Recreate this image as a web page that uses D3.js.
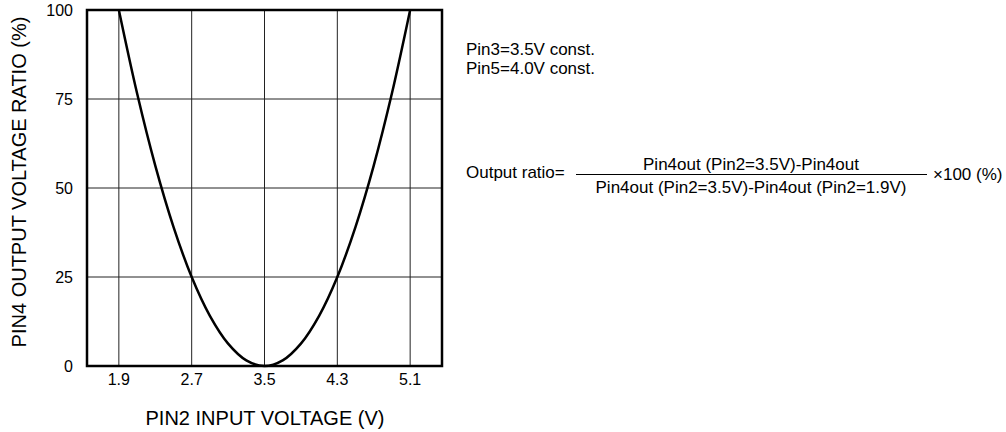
<!DOCTYPE html>
<html lang="en">
<head>
<meta charset="utf-8">
<script src="https://d3js.org/d3.v7.min.js"></script>
<style>
  body { margin: 0; background: #fff; }
  text { font-family: "Liberation Sans", Arial, sans-serif; fill: #000; }
</style>
</head>
<body>
<svg id="chart"></svg>
<script type="text/javascript">
// values
const xTicks = [1.9, 2.7, 3.5, 4.3, 5.1];
const yTicks = [0, 25, 50, 75, 100];
const curveX = [1.9, 2.1, 2.3, 2.5, 2.7, 2.9, 3.1, 3.3, 3.5, 3.7, 3.9, 4.1, 4.3, 4.5, 4.7, 4.9, 5.1];
const curveY = [100, 76.6, 56.3, 39.1, 25, 14.1, 6.3, 1.6, 0, 1.6, 6.3, 14.1, 25, 39.1, 56.3, 76.6, 100];
const noteLines = ["Pin3=3.5V const.", "Pin5=4.0V const."];
const formulaLeft = "Output ratio=";
const formulaNum = "Pin4out (Pin2=3.5V)-Pin4out";
const formulaDen = "Pin4out (Pin2=3.5V)-Pin4out (Pin2=1.9V)";
const formulaRight = "\u00d7100 (%)";

const width = 1006, height = 432;
const plot = { left: 87, right: 442, top: 10, bottom: 366 };

const svg = d3.select("#chart").attr("width", width).attr("height", height);

const x = d3.scaleLinear().domain([1.55, 5.45]).range([plot.left, plot.right]);
const y = d3.scaleLinear().domain([0, 100]).range([plot.bottom, plot.top]);

// grid
svg.append("g").selectAll("line").data(xTicks).enter().append("line")
    .attr("x1", d => x(d)).attr("x2", d => x(d))
    .attr("y1", plot.top).attr("y2", plot.bottom)
    .attr("stroke", "#222").attr("stroke-width", 1);
svg.append("g").selectAll("line").data(yTicks.slice(1, -1)).enter().append("line")
    .attr("x1", plot.left).attr("x2", plot.right)
    .attr("y1", d => y(d)).attr("y2", d => y(d))
    .attr("stroke", "#222").attr("stroke-width", 1);

// curve
const pts = curveX.map((v, i) => [v, curveY[i]]);
svg.append("path")
    .datum(pts)
    .attr("d", d3.line().x(d => x(d[0])).y(d => y(d[1])).curve(d3.curveCatmullRom))
    .attr("fill", "none").attr("stroke", "#000").attr("stroke-width", 2.5);

// frame
svg.append("rect")
    .attr("x", plot.left).attr("y", plot.top)
    .attr("width", plot.right - plot.left).attr("height", plot.bottom - plot.top)
    .attr("fill", "none").attr("stroke", "#000").attr("stroke-width", 2.5);

// tick labels
svg.append("g").selectAll("text").data(yTicks).enter().append("text")
    .attr("x", 73).attr("y", d => y(d) + 6)
    .attr("text-anchor", "end").attr("font-size", 16)
    .text(d => d);
svg.append("g").selectAll("text").data(xTicks).enter().append("text")
    .attr("x", d => x(d)).attr("y", 385)
    .attr("text-anchor", "middle").attr("font-size", 16)
    .text(d => d.toFixed(1));

// axis titles
svg.append("text")
    .attr("x", 265).attr("y", 425)
    .attr("text-anchor", "middle").attr("font-size", 20)
    .text("PIN2 INPUT VOLTAGE (V)");
svg.append("text")
    .attr("transform", "translate(26,182) rotate(-90)")
    .attr("text-anchor", "middle").attr("font-size", 20)
    .text("PIN4 OUTPUT VOLTAGE RATIO (%)");

// notes
svg.append("g").selectAll("text").data(noteLines).enter().append("text")
    .attr("x", 466).attr("y", (d, i) => 54.5 + i * 19)
    .attr("font-size", 17)
    .text(d => d);

// formula
svg.append("text").attr("x", 466).attr("y", 178)
    .attr("font-size", 17).text(formulaLeft);
svg.append("text").attr("x", 751).attr("y", 170)
    .attr("text-anchor", "middle").attr("font-size", 17).text(formulaNum);
svg.append("line").attr("x1", 576).attr("x2", 927).attr("y1", 174.5).attr("y2", 174.5)
    .attr("stroke", "#000").attr("stroke-width", 1);
svg.append("text").attr("x", 751).attr("y", 193)
    .attr("text-anchor", "middle").attr("font-size", 17).text(formulaDen);
svg.append("text").attr("x", 933).attr("y", 180)
    .attr("font-size", 17).text(formulaRight);
</script>
</body>
</html>
